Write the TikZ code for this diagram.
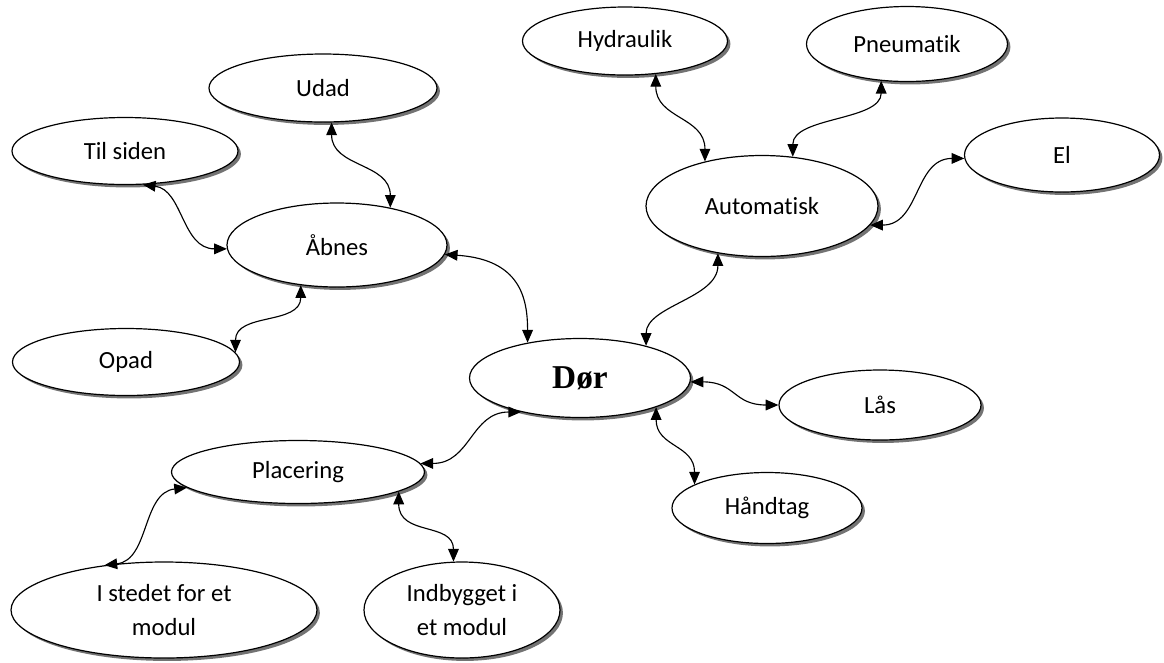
\documentclass[tikz,border=0pt]{standalone}
\usepackage{fontspec}
\setmainfont{Carlito}[Ligatures={NoCommon,NoRequired}]
\newfontfamily\tidfont{Liberation Serif}
\usetikzlibrary{shapes.geometric,shadows,arrows.meta}

\begin{document}
\begin{tikzpicture}[x=0.75pt,y=-0.75pt,
	bobl/.style={ellipse,draw,line width=0.9pt,fill=white,inner sep=0pt,align=center,
		font=\fontsize{18.5}{26}\selectfont,
		general shadow={fill=black!55,draw=none,shadow xshift=2.2pt,shadow yshift=-2.2pt}},
	pil/.style={{Triangle[length=9.5pt,width=8pt]}-{Triangle[length=9.5pt,width=8pt]},line width=0.85pt}]
	\useasboundingbox (0,0) rectangle (1164,662);

	% boblerne
	\node[bobl,minimum width=169.5pt,minimum height=50.25pt]	(tilsiden)	at (125,151)	{Til siden};
	\node[bobl,minimum width=171pt,minimum height=51pt]		(udad)		at (323,88)		{Udad};
	\node[bobl,minimum width=165pt,minimum height=63pt]		(aabnes)	at (337,245)	{Åbnes};
	\node[bobl,minimum width=170.25pt,minimum height=50.25pt]	(opad)		at (126,362)	{Opad};
	\node[bobl,minimum width=153.75pt,minimum height=51pt]	(hydraulik)	at (625,41)		{Hydraulik};
	\node[bobl,minimum width=150.75pt,minimum height=56.25pt]	(pneumatik)	at (907,44)		{Pneumatik};
	\node[bobl,minimum width=146.25pt,minimum height=55.5pt]	(el)		at (1062,155)	{El};
	\node[bobl,minimum width=174pt,minimum height=75.75pt]	(automatisk)	at (762,206)	{Automatisk};
	\node[bobl,minimum width=165.75pt,minimum height=59.25pt,
		font=\tidfont\bfseries\fontsize{25}{30}\selectfont]	(dor)		at (580,378)	{Dør};
	\node[bobl,minimum width=151.5pt,minimum height=52.5pt]	(laas)		at (880,405)	{Lås};
	\node[bobl,minimum width=142.5pt,minimum height=53.25pt]	(haandtag)	at (767,508)	{Håndtag};
	\node[bobl,minimum width=189.75pt,minimum height=47.25pt]	(placering)	at (298,472)	{Placering};
	\node[bobl,minimum width=229.5pt,minimum height=72pt]		(istedet)	at (164,610)	{I stedet for et\\modul};
	\node[bobl,minimum width=147pt,minimum height=72pt]		(indbygget)	at (462,610)	{Indbygget i\\et modul};

	% forbindelser
	\draw[pil]	(tilsiden.-62) .. controls +(40,5) and +(-45,0) .. (aabnes.182);
	\draw[pil]	(udad.-76) .. controls +(0,45) and +(0,-45) .. (aabnes.35);
	\draw[pil]	(opad.5) .. controls +(0,-40) and +(0,40) .. (aabnes.-132);
	\draw[pil]	(aabnes.-5) .. controls +(75,5) and +(0,-45) .. (dor.146);
	\draw[pil]	(automatisk.-133) .. controls +(0,45) and +(0,-40) .. (dor.26);
	\draw[pil]	(hydraulik.-47) .. controls +(0,45) and +(0,-45) .. (automatisk.142);
	\draw[pil]	(pneumatik.235) .. controls +(0,40) and +(0,-40) .. (automatisk.58);
	\draw[pil]	(automatisk.-10) .. controls +(50,0) and +(-50,0) .. (el.182);
	\draw[pil]	(dor.-2) .. controls +(45,0) and +(-45,0) .. (laas.180);
	\draw[pil]	(dor.-21) .. controls +(0,40) and +(0,-40) .. (haandtag.162);
	\draw[pil]	(placering.4) .. controls +(50,0) and +(-50,0) .. (dor.-150);
	\draw[pil]	(placering.-172) .. controls +(-45,5) and +(45,-5) .. (istedet.143);
	\draw[pil]	(placering.-11) .. controls +(0,45) and +(0,-40) .. (indbygget.100);

\end{tikzpicture}
\end{document}
